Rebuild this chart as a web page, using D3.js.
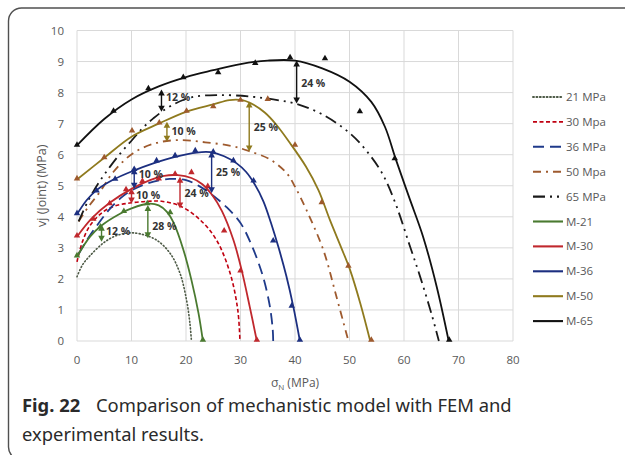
<!DOCTYPE html>
<html><head><meta charset="utf-8">
<script src="https://cdn.jsdelivr.net/npm/d3@7"></script>
<style>body{margin:0;background:#fff} svg{display:block}</style>
</head><body><svg id="c" width="625" height="455"></svg>
<script>
// ---------- data ----------
const xTicks = [0,10,20,30,40,50,60,70,80];
const yTicks = [0,1,2,3,4,5,6,7,8,9,10];
const legendLabels = ["21 MPa","30 Mpa","36 MPa","50 Mpa","65 MPa","M-21","M-30","M-36","M-50","M-65"];

// FEM curves
const fem21 = [[0,2.07],[1,2.45],[2.4,2.75],[4.8,3.15],[7,3.38],[9.5,3.48],[11.6,3.45],[14.6,3.25],[17.1,2.82],[18.9,2.18],[20.1,1.32],[20.7,0.6],[21,0]];
const fem30 = [[0,2.55],[1,3.2],[2.4,3.72],[4.8,4.16],[7,4.35],[10,4.45],[13,4.5],[15.5,4.5],[18.9,4.35],[22.6,3.9],[25.6,3.25],[28.1,2.18],[29.5,1.0],[29.9,0]];
const fem36 = [[0.3,2.8],[2,3.3],[4,3.8],[6,4.25],[8,4.6],[10,4.85],[13,5.08],[17,5.22],[20,5.18],[22.5,4.98],[25,4.68],[27.5,4.3],[30,3.8],[32,3.1],[34,2.15],[35.3,1.2],[35.9,0.4],[36,0]];
const fem50 = [[0.3,3.85],[2,4.3],[4.2,4.8],[6.7,5.45],[10.3,6.05],[14.6,6.38],[18.9,6.47],[23.5,6.4],[28.4,6.28],[31.5,6.12],[35.4,5.85],[38.5,5.4],[40,4.97],[42.1,4.22],[45.2,2.93],[47.6,1.43],[49.8,0]];
const fem65 = [[0.3,3.85],[2,4.5],[4,5.1],[6,5.6],[8,6.05],[10,6.45],[12,6.85],[14,7.17],[17,7.55],[21,7.85],[26,7.92],[32,7.87],[36,7.78],[40,7.65],[45,7.3],[50,6.7],[53,6.15],[56,5.4],[58.5,4.4],[61,3.1],[63,2.05],[65,0.9],[66.4,0]];

// Mechanistic model curves
const m21 = [[0,2.72],[2.4,3.36],[4.5,3.72],[7.9,4.1],[10,4.27],[13,4.42],[15,4.37],[16.5,4.16],[17.7,3.82],[19.5,2.95],[21,1.96],[22.3,0.89],[23.1,0]];
const m30 = [[0,3.36],[2.7,3.95],[6,4.45],[10,4.9],[13.4,5.18],[16,5.32],[18.5,5.34],[21,5.25],[23,5.05],[24.8,4.7],[26.6,4.18],[28.7,3.25],[30.2,2.29],[31.7,1.1],[33,0]];
const m36 = [[0,4.08],[1.8,4.54],[3.6,4.86],[6.7,5.2],[10.3,5.48],[14,5.72],[18,5.93],[22,6.07],[24.5,6.08],[27,5.95],[29.3,5.72],[31,5.45],[32.6,5.05],[34.2,4.5],[35.6,3.8],[37,3.0],[38.4,2.1],[39.7,1.1],[40.9,0]];
const m50 = [[0,5.2],[5,5.9],[10,6.58],[15,7.0],[20,7.38],[25,7.62],[28,7.76],[30.5,7.75],[32.5,7.6],[34.5,7.35],[36.5,6.98],[39.1,6.37],[42,5.62],[44.3,4.86],[46.4,3.9],[48.5,3.0],[50.1,2.29],[52,1.2],[53.8,0]];
const m65 = [[0,6.3],[5,7.15],[10,7.78],[15,8.2],[20,8.5],[25,8.72],[30,8.92],[35,9.03],[40,9.03],[45,8.78],[50,8.35],[54,7.7],[56.5,6.9],[58.5,5.85],[61,4.6],[63.5,3.36],[66,1.75],[68.2,0]];

// triangle markers
const pts21 = [[0,2.72],[4.3,3.65],[8.6,4.15],[12.9,4.4],[17.1,4.11],[23.1,0]];
const pts30 = [[0,3.36],[3,3.9],[6,4.4],[9,4.85],[12,5.12],[15,5.2],[18,5.35],[21,5.4],[24,4.95],[27,3.52],[30,2.23],[33,0]];
const pts36 = [[0,4.08],[3.6,4.81],[7,5.19],[10.5,5.5],[14.6,5.78],[18,5.94],[21.7,6.1],[25,6.06],[28.7,5.78],[32.4,5.13],[36,3.2],[39.4,1.1],[40.9,0]];
const pts50 = [[0,5.2],[5,5.88],[10.1,6.74],[15.1,7.0],[20.1,7.38],[25,7.52],[30,7.73],[35,7.76],[40,6.28],[44.9,4.43],[49.8,2.39],[54,0]];
const pts65 = [[0,6.28],[6.7,7.38],[13.1,8.1],[19.5,8.46],[25.9,8.62],[32.7,8.92],[39.1,9.1],[45.5,9.07],[51.9,7.36],[58.3,5.85],[68.3,0]];

// percentage arrows: [x, yTop, yBottom, label, labelY]
const arrows65 = [[15.5,8.1,7.38,"12 %",7.85],[40.3,9.03,7.65,"24 %",8.3]];
const arrows50 = [[16.5,7.06,6.42,"10 %",6.77],[31.6,7.71,6.1,"25 %",6.87]];
const arrows36 = [[10.5,5.56,4.9,"10 %",5.38],[24.7,6.1,4.76,"25 %",5.45]];
const arrows30 = [[10,4.92,4.43,"10 %",4.7],[18.9,5.29,4.27,"24 %",4.76]];
const arrows21 = [[4.5,3.74,3.2,"12 %",3.55],[13,4.38,3.31,"28 %",3.7]];

// ---------- drawing ----------
const svg = d3.select('#c');
const x = d3.scaleLinear().domain([0,80]).range([77,513]);
const y = d3.scaleLinear().domain([0,10]).range([341,30.5]);
const FONT = "'Open Sans', sans-serif";

// frame
svg.append('rect').attr('x',8.5).attr('y',8).attr('width',700).attr('height',452)
  .attr('rx',13).attr('fill','none').attr('stroke','#505050').attr('stroke-width',1.4);

// grid
const g = svg.append('g');
g.selectAll('.vg').data(xTicks).join('line')
  .attr('x1',d=>x(d)).attr('x2',d=>x(d)).attr('y1',y(0)).attr('y2',y(10))
  .attr('stroke','#d9d9d9').attr('stroke-width',1);
g.selectAll('.hg').data(yTicks).join('line')
  .attr('x1',x(0)).attr('x2',x(80)).attr('y1',d=>y(d)).attr('y2',d=>y(d))
  .attr('stroke','#d9d9d9').attr('stroke-width',1);

// tick labels
svg.selectAll('.xt').data(xTicks).join('text')
  .attr('x',d=>x(d)).attr('y',364).attr('text-anchor','middle')
  .attr('font-family',FONT).attr('font-size',11.5).attr('fill','#595959').text(d=>d);
svg.selectAll('.yt').data(yTicks).join('text')
  .attr('x',64).attr('y',d=>y(d)+4).attr('text-anchor','end')
  .attr('font-family',FONT).attr('font-size',11.5).attr('fill','#595959').text(d=>d);

// axis titles
const xt = svg.append('text').attr('x',x(40)).attr('y',387).attr('text-anchor','middle')
  .attr('font-family',FONT).attr('font-size',12).attr('fill','#595959');
xt.append('tspan').text('σ');
xt.append('tspan').attr('font-size',8).attr('dy',3).text('N');
xt.append('tspan').attr('dy',-3).text(' (MPa)');
svg.append('text').attr('transform',`translate(46,${(y(0)+y(10))/2}) rotate(-90)`)
  .attr('text-anchor','middle').attr('font-family',FONT).attr('font-size',12.5)
  .attr('fill','#595959').text('vj (Joint) (MPa)');

// series styles
const series = [
  {data:fem21, color:'#4d5a46', dash:'1,2.4', w:1.6, cap:'round'},
  {data:fem30, color:'#c00010', dash:'4,2.5', w:1.6},
  {data:fem36, color:'#1f3a8a', dash:'11,6', w:1.8},
  {data:fem50, color:'#9e5a2e', dash:'8,5,2,5', w:1.8},
  {data:fem65, color:'#1a1a1a', dash:'12,5,2,5,2,5', w:1.8},
  {data:m21, color:'#4a7a30', dash:null, w:1.8, pts:pts21, pc:'#4a7a30'},
  {data:m30, color:'#c0282d', dash:null, w:1.8, pts:pts30, pc:'#c0282d'},
  {data:m36, color:'#1c2f80', dash:null, w:1.8, pts:pts36, pc:'#1c2f80'},
  {data:m50, color:'#8f7a1e', dash:null, w:1.8, pts:pts50, pc:'#9e5a2e'},
  {data:m65, color:'#111111', dash:null, w:1.8, pts:pts65, pc:'#111111'}
];
const line = d3.line().x(d=>x(d[0])).y(d=>y(d[1])).curve(d3.curveCatmullRom.alpha(0.5));
series.forEach(s=>{
  svg.append('path').attr('d',line(s.data)).attr('fill','none')
    .attr('stroke',s.color).attr('stroke-width',s.w)
    .attr('stroke-dasharray',s.dash).attr('stroke-linecap',s.cap||'butt');
});
const tri = d3.symbol().type(d3.symbolTriangle).size(18);
series.filter(s=>s.pts).forEach(s=>{
  svg.selectAll(null).data(s.pts).join('path')
    .attr('d',tri).attr('transform',d=>`translate(${x(d[0])},${y(d[1])-1})`)
    .attr('fill',s.pc);
});

// arrows
const arrowSets = [[arrows21,'#4a7a30'],[arrows30,'#c0282d'],[arrows36,'#1c2f80'],[arrows50,'#8f7a1e'],[arrows65,'#111111']];
arrowSets.forEach(([arr,col])=>{
  arr.forEach(a=>{
    const ax = x(a[0]), yt = y(a[1]), yb = y(a[2]);
    const hl = 6, hw = 3.3;
    svg.append('line').attr('x1',ax).attr('x2',ax).attr('y1',yt+hl-1).attr('y2',yb-hl+1)
      .attr('stroke',col).attr('stroke-width',1.4);
    svg.append('path').attr('d',`M${ax},${yt}L${ax-hw},${yt+hl}L${ax+hw},${yt+hl}Z`).attr('fill',col);
    svg.append('path').attr('d',`M${ax},${yb}L${ax-hw},${yb-hl}L${ax+hw},${yb-hl}Z`).attr('fill',col);
    svg.append('text').attr('x',ax+4.5).attr('y',y(a[4])+3.8)
      .attr('font-family',FONT).attr('font-size',10.5).attr('font-weight','bold')
      .attr('fill','#333').text(a[3]);
  });
});

// legend
const lg = svg.append('g');
legendLabels.forEach((lab,i)=>{
  const s = series[i], ly = 97 + i*24.9;
  lg.append('line').attr('x1',533).attr('x2',563).attr('y1',ly).attr('y2',ly)
    .attr('stroke',s.color).attr('stroke-width',s.w+0.3)
    .attr('stroke-dasharray',s.dash).attr('stroke-linecap',s.cap||'butt');
  lg.append('text').attr('x',566).attr('y',ly+4).attr('font-family',FONT)
    .attr('font-size',11.5).attr('fill','#595959').text(lab);
});

// caption
const CF = "'Noto Sans', sans-serif";
const c1 = svg.append('text').attr('y',412).attr('font-family',CF).attr('font-size',18).attr('fill','#2a2a2a');
const t1 = c1.append('tspan').attr('x',22).attr('font-weight','bold').text('Fig. 22');
const t2 = c1.append('tspan').attr('x',96).text('Comparison of mechanistic model with FEM and');
const c2 = svg.append('text').attr('x',22).attr('y',441).attr('font-family',CF).attr('font-size',18).attr('fill','#2a2a2a')
  .text('experimental results.');
const w2 = t2.node().getComputedTextLength();
const fs = 18*416/w2;
c1.attr('font-size',fs); c2.attr('font-size',fs);
</script></body></html>
